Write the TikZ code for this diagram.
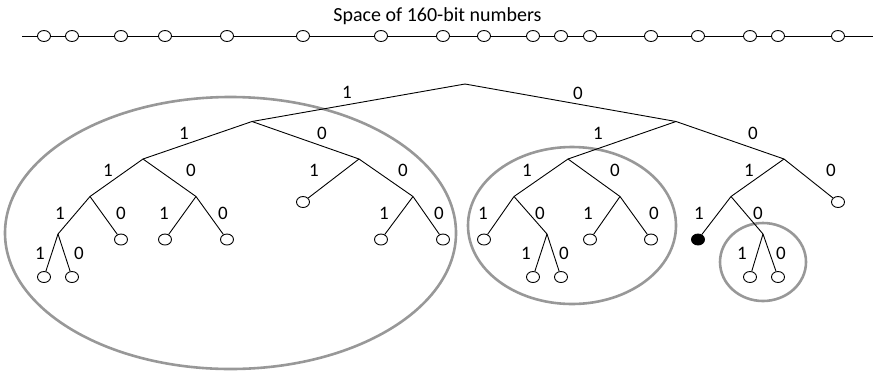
\documentclass[tikz,border=0pt]{standalone}
\usepackage{fontspec}
\setmainfont{Carlito}
\usetikzlibrary{shapes.geometric}
\definecolor{ringgrey}{RGB}{152,152,152}
\tikzset{
  leaf/.style={ellipse, draw=black, fill=white, line width=0.9pt, minimum width=13pt, minimum height=11pt, inner sep=0pt},
  hit/.style={leaf, fill=black},
  edge/.style={draw=black, line width=0.9pt},
  bit/.style={font=\fontsize{19}{22}\selectfont, inner sep=0pt},
  title/.style={font=\fontsize{20}{24}\selectfont, inner sep=0pt, anchor=base},
  ring/.style={draw=ringgrey, line width=2.6pt},
}
\begin{document}
\begin{tikzpicture}[x=1pt,y=-1pt]
  \useasboundingbox (0,0) rectangle (874,373);
  \node[title] (space) at (437.5,21) {Space of 160-bit numbers};
  \coordinate (lineL) at (22,36);
  \coordinate (lineR) at (873,36);
  \draw[edge] (lineL) -- (lineR);
  \foreach \x [count=\i] in {44,72,121,165,227,303,381,443,484,533,561,590,651,698,750,778,838}{
    \node[leaf] (s\i) at (\x,36) {};
  }
  \draw[ring] (230.5,233) ellipse [x radius=225.5, y radius=136];
  \draw[ring] (572,225.5) ellipse [x radius=104, y radius=78.5];
  \draw[ring] (763,262) ellipse [x radius=43, y radius=39];
  \foreach \n/\x/\y in {r/465/84, 1/252/121.5, 0/676/121.5,
                        11/143/159, 10/359/159, 01/568/159, 00/784/159,
                        111/90/196.5, 110/196/196.5, 100/413/196.5, 011/514/196.5, 010/620/196.5, 001/731/196.5,
                        1111/58/234, 0110/547/234, 0010/763/234}{
    \coordinate (n\n) at (\x,\y);
  }
  \foreach \n/\x/\y in {101/303/202, 000/838/202,
                        1110/121/239.5, 1101/165/239.5, 1100/227/239.5, 1001/381/239.5, 1000/443/239.5,
                        0111/484/239.5, 0101/590/239.5, 0100/651/239.5,
                        11111/44/277, 11110/72/277, 01101/533/277, 01100/561/277, 00101/750/277, 00100/778/277}{
    \node[leaf] (n\n) at (\x,\y) {};
  }
  \node[hit] (n0011) at (698,239.5) {};
  \foreach \a/\b/\bt/\lx/\ly in {r/1/1/347/92, r/0/0/578/93,
                                 1/11/1/184/133, 1/10/0/322/133, 0/01/1/598/133, 0/00/0/753/133,
                                 11/111/1/108/170, 11/110/0/191/170, 10/101/1/314/170, 10/100/0/403/170,
                                 01/011/1/527/170, 01/010/0/615/170, 00/001/1/749/170, 00/000/0/831/170,
                                 111/1111/1/60/213, 111/1110/0/121/213, 110/1101/1/164/213, 110/1100/0/223/213,
                                 100/1001/1/384/213, 100/1000/0/439/213, 011/0111/1/483/213, 011/0110/0/540/213,
                                 010/0101/1/588/213, 010/0100/0/654/213, 001/0011/1/699/213, 001/0010/0/758/213,
                                 1111/11111/1/40/253, 1111/11110/0/79/253, 0110/01101/1/526/253, 0110/01100/0/564/253,
                                 0010/00101/1/742/253, 0010/00100/0/781/253}{
    \draw[edge] (n\a) -- (n\b);
    \node[bit] (b\b) at (\lx,\ly) {\bt};
  }
\end{tikzpicture}
\end{document}
